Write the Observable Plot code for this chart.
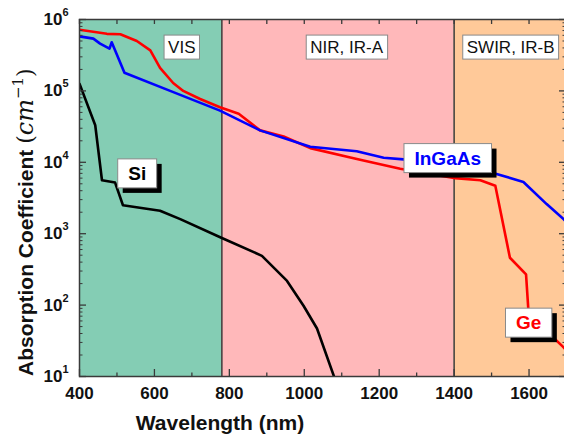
<!DOCTYPE html>
<html><head><meta charset="utf-8">
<script src="https://cdn.jsdelivr.net/npm/d3@7"></script>
<script src="https://cdn.jsdelivr.net/npm/@observablehq/plot@0.6"></script>
<style>html,body{margin:0;padding:0;background:#fff;overflow:hidden} svg{display:block}</style>
</head><body><div id="chart"></div>
<script>
// ---- data ----
const regionNames = ["VIS", "NIR, IR-A", "SWIR, IR-B"];
const regionStart = [400, 780, 1400];
const regionEnd = [780, 1400, 1700];
const regionLabelX = [673, 1113, 1551];
const regionLabelY = [4.1e5, 4.1e5, 4.1e5];

const siWavelength = [400, 442, 460, 495, 516, 615, 669, 780, 887, 954, 998, 1034, 1080];
const siAlpha = [1.26e5, 3.3e4, 5.6e3, 5.2e3, 2.5e3, 2.1e3, 1.6e3, 870, 490, 218, 98, 47, 9.8];

const geWavelength = [400, 473, 509, 553, 589, 615, 650, 677, 722, 775, 825, 882, 945, 1016, 1123, 1158, 1256, 1403, 1470, 1510, 1549, 1592, 1598, 1659, 1691, 1700];
const geAlpha = [7.2e5, 6.3e5, 6.2e5, 5e5, 3.7e5, 2.1e5, 1.29e5, 1e5, 7.7e4, 5.9e4, 4.8e4, 2.8e4, 2.3e4, 1.58e4, 1.17e4, 1.06e4, 8.1e3, 6.0e3, 5.6e3, 4.7e3, 460, 270, 89, 37.5, 26, 23];

const ingaasWavelength = [400, 437, 455, 480, 486, 520, 642, 775, 882, 1016, 1140, 1212, 1265, 1504, 1585, 1647, 1692, 1700];
const ingaasAlpha = [5.8e5, 5.4e5, 4.6e5, 3.9e5, 4.8e5, 1.8e5, 1e5, 5.3e4, 2.8e4, 1.65e4, 1.43e4, 1.16e4, 1.1e4, 7.1e3, 5.3e3, 2.6e3, 1.6e3, 1.45e3];

const seriesNames = ["Si", "InGaAs", "Ge"];
const seriesLabelX = [554, 1383, 1599];
const seriesLabelY = [6.9e3, 1.13e4, 56];

const xTickLabels = [400, 600, 800, 1000, 1200, 1400, 1600];
const xMinorTicks = [500, 700, 900, 1100, 1300, 1500, 1700];
const yDecades = [1e1, 1e2, 1e3, 1e4, 1e5, 1e6];
const yExponents = ["1", "2", "3", "4", "5", "6"];
const yMinorTicks = yDecades.slice(0, -1).flatMap(d => [2, 3, 4, 5, 6, 7, 8, 9].map(k => k * d));

// ---- styles ----
const regionFill = ["#84cdb4", "#ffb8ba", "#ffc999"];
const seriesColor = ["#000000", "#0000ff", "#ff0000"];
const W = 564, H = 434, mL = 79, mR = -2, mT = 19, mB = 58;
const innerW = W - mL - mR, innerH = H - mT - mB;
const axisColor = "#3a3a3a";

const pts = (xs, ys) => xs.map((x, i) => ({x, y: ys[i]}));

const svg = Plot.plot({
  width: W, height: H,
  marginLeft: mL, marginRight: mR, marginTop: mT, marginBottom: mB,
  style: {fontFamily: "'Liberation Sans', Arial, sans-serif", background: "#fff", overflow: "visible"},
  x: {domain: [400, 1700], axis: null},
  y: {type: "log", domain: [10, 1e6], axis: null},
  marks: [
    Plot.rect(regionNames, {x1: (d, i) => regionStart[i], x2: (d, i) => regionEnd[i], y1: () => 10, y2: () => 1e6, fill: (d, i) => regionFill[i]}),
    Plot.ruleX([regionStart[1], regionStart[2]], {stroke: axisColor, strokeWidth: 1.5}),
    Plot.line(pts(siWavelength, siAlpha), {x: "x", y: "y", stroke: seriesColor[0], strokeWidth: 2.6, clip: true}),
    Plot.line(pts(geWavelength, geAlpha), {x: "x", y: "y", stroke: seriesColor[2], strokeWidth: 2.6, clip: true}),
    Plot.line(pts(ingaasWavelength, ingaasAlpha), {x: "x", y: "y", stroke: seriesColor[1], strokeWidth: 2.6, clip: true}),
    // ticks (inward)
    Plot.ruleX(xTickLabels, {insetTop: innerH - 7, stroke: axisColor, strokeWidth: 1.3}),
    Plot.ruleX(xMinorTicks, {insetTop: innerH - 3.5, stroke: axisColor, strokeWidth: 1.3}),
    Plot.ruleX([...xTickLabels, ...xMinorTicks], {insetBottom: innerH - 5, stroke: axisColor, strokeWidth: 1.3}),
    Plot.ruleY(yDecades, {insetRight: innerW - 7, stroke: axisColor, strokeWidth: 1.3}),
    Plot.ruleY(yMinorTicks, {insetRight: innerW - 3.5, stroke: axisColor, strokeWidth: 1}),
    Plot.ruleY(yDecades, {insetLeft: innerW - 7, stroke: axisColor, strokeWidth: 1.3}),
    Plot.ruleY(yMinorTicks, {insetLeft: innerW - 3.5, stroke: axisColor, strokeWidth: 1}),
    Plot.frame({stroke: axisColor, strokeWidth: 1.5}),
    // tick labels
    Plot.text(xTickLabels, {x: d => d, frameAnchor: "bottom", lineAnchor: "top", dy: 10, text: d => String(d), fontSize: 17, fontWeight: "bold", fill: "#111"}),
    Plot.text(yDecades, {y: d => d, frameAnchor: "left", text: () => "10", textAnchor: "end", lineAnchor: "middle", dx: -17, fontSize: 17, fontWeight: "bold", fill: "#111"}),
    Plot.text(yDecades, {y: d => d, frameAnchor: "left", text: (d, i) => yExponents[i], textAnchor: "start", lineAnchor: "middle", dx: -17, dy: -7, fontSize: 11, fontWeight: "bold", fill: "#111"}),
    // region labels
    Plot.text(regionNames, {x: (d, i) => regionLabelX[i], y: (d, i) => regionLabelY[i], text: d => d, lineAnchor: "middle", fontSize: 17, fill: "#111"}),
    // series labels
    Plot.text(seriesNames, {x: (d, i) => seriesLabelX[i], y: (d, i) => seriesLabelY[i], text: d => d, lineAnchor: "middle", fontSize: 19, fontWeight: "bold", fill: (d, i) => seriesColor[i]})
  ]
});
document.getElementById("chart").append(svg);

// boxes behind labels
const NS = "http://www.w3.org/2000/svg";
function box(el, px, py, shadow) {
  const b = el.getBBox();
  const parent = el.parentNode;
  const tr = el.getAttribute("transform");
  const mk = (off, fill, stroke) => {
    const r = document.createElementNS(NS, "rect");
    r.setAttribute("x", b.x - px + off);
    r.setAttribute("y", b.y - py + off);
    r.setAttribute("width", b.width + 2 * px);
    r.setAttribute("height", b.height + 2 * py);
    r.setAttribute("fill", fill);
    if (stroke) { r.setAttribute("stroke", stroke); r.setAttribute("stroke-width", 1); }
    if (tr) r.setAttribute("transform", tr);
    parent.insertBefore(r, el);
  };
  if (shadow) mk(5, "#000", null);
  mk(0, "#fff", "#8a8a8a");
}
d3.select(svg).selectAll("text").each(function () {
  const t = this.textContent;
  if (regionNames.includes(t)) box(this, 4, 2.5, false);
  else if (seriesNames.includes(t)) box(this, 10.5, 4, true);
});

// axis titles
const s = d3.select(svg);
const yt = s.append("text").attr("transform", "translate(33,376) rotate(-90)").attr("text-anchor", "start").attr("fill", "#111");
yt.append("tspan").attr("font-size", 21).attr("font-weight", "bold").text("Absorption Coefficient ");
yt.append("tspan").attr("font-family", "'DejaVu Serif', serif").attr("font-size", 22).text("(");
yt.append("tspan").attr("font-family", "'DejaVu Serif', serif").attr("font-style", "italic").attr("font-size", 24).text("cm");
yt.append("tspan").attr("font-family", "'DejaVu Serif', serif").attr("font-size", 15).attr("dy", -10).text("−1");
yt.append("tspan").attr("font-family", "'DejaVu Serif', serif").attr("font-size", 22).attr("dy", 10).text(")");
s.append("text").attr("x", 220).attr("y", 430).attr("font-size", 21).attr("font-weight", "bold").attr("fill", "#111").text("Wavelength (nm)");
</script>
</body></html>
